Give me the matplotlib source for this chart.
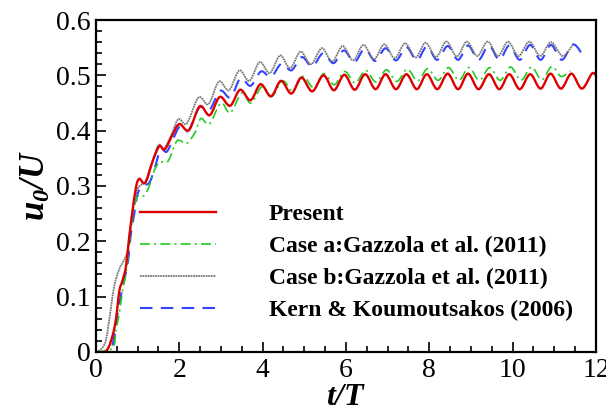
import matplotlib
matplotlib.use("Agg")
import matplotlib.pyplot as plt
from matplotlib.path import Path
from matplotlib.patches import PathPatch
from matplotlib.lines import Line2D
from matplotlib.ticker import MultipleLocator

plt.rcParams['font.family'] = ['Liberation Serif', 'DejaVu Serif']
plt.rcParams['mathtext.fontset'] = 'custom'
plt.rcParams['mathtext.rm'] = 'Liberation Serif'
plt.rcParams['mathtext.it'] = 'Liberation Serif:italic'
plt.rcParams['mathtext.bf'] = 'Liberation Serif:bold'
plt.rcParams['mathtext.bfit'] = 'Liberation Serif:italic:bold'

# values (peaks / troughs and the start-up part)
t_present = [0.0, 0.20, 0.30, 0.40, 0.48, 0.56, 0.64, 0.72, 0.80, 0.88, 0.96, 1.04, 1.18, 1.36,
             1.52, 1.65, 1.84, 2.00, 2.23, 2.49, 2.73, 2.97, 3.22, 3.46, 3.71, 3.95, 4.20, 4.44,
             4.69, 4.93, 5.19, 5.46, 5.71, 5.96, 6.21, 6.46, 6.71, 6.95, 7.20, 7.45, 7.70, 7.94,
             8.19, 8.44, 8.69, 8.93, 9.18, 9.43, 9.68, 9.92, 10.17, 10.42, 10.67, 10.91, 11.16,
             11.41, 11.66, 11.90, 12.0]
u_present = [0.0, 0.0, 0.008, 0.03, 0.06, 0.11, 0.13, 0.155, 0.21, 0.256, 0.298, 0.313, 0.306, 0.345,
             0.372, 0.366, 0.393, 0.412, 0.401, 0.444, 0.428, 0.461, 0.445, 0.474, 0.455, 0.484, 0.462, 0.490,
             0.467, 0.496, 0.471, 0.500, 0.473, 0.501, 0.474, 0.502, 0.475, 0.502, 0.475, 0.502, 0.475, 0.502,
             0.475, 0.503, 0.475, 0.503, 0.475, 0.502, 0.475, 0.502, 0.475, 0.502, 0.476, 0.503, 0.476,
             0.503, 0.476, 0.503, 0.500]

t_case_a = [0.0, 0.40, 0.48, 0.56, 0.64, 0.72, 0.80, 0.88, 0.96, 1.05, 1.16, 1.28, 1.40, 1.52, 1.62,
            1.74, 1.92, 2.02, 2.18, 2.38, 2.52, 2.72, 3.00, 3.22, 3.50, 3.72, 3.99, 4.22, 4.48, 4.72,
            4.97, 5.22, 5.47, 5.72, 5.97, 6.22, 6.47, 6.72, 6.97, 7.22, 7.47, 7.72, 7.96, 8.21, 8.46,
            8.71, 8.95, 9.20, 9.45, 9.70, 9.95, 10.20, 10.45, 10.70, 10.94, 11.16, 11.38]
u_case_a = [0.0, 0.007, 0.040, 0.070, 0.112, 0.142, 0.196, 0.244, 0.275, 0.283, 0.283, 0.300, 0.328, 0.343, 0.343,
            0.346, 0.379, 0.382, 0.377, 0.397, 0.422, 0.412, 0.450, 0.432, 0.468, 0.450, 0.480, 0.462, 0.490, 0.472,
            0.498, 0.478, 0.503, 0.483, 0.507, 0.486, 0.509, 0.488, 0.510, 0.489, 0.511, 0.490, 0.512, 0.491, 0.514,
            0.491, 0.514, 0.491, 0.514, 0.491, 0.515, 0.491, 0.515, 0.492, 0.516, 0.498, 0.508]

t_case_b = [0.0, 0.12, 0.24, 0.36, 0.44, 0.56, 0.68, 0.76, 0.82, 0.90, 1.00, 1.08, 1.22, 1.36, 1.50,
            1.64, 1.82, 1.98, 2.18, 2.46, 2.70, 2.95, 3.19, 3.44, 3.68, 3.93, 4.17, 4.42, 4.66, 4.91,
            5.16, 5.42, 5.67, 5.92, 6.17, 6.42, 6.67, 6.92, 7.17, 7.42, 7.67, 7.91, 8.16, 8.41, 8.66,
            8.90, 9.15, 9.40, 9.65, 9.89, 10.14, 10.40, 10.66, 10.92, 11.20, 11.46]
u_case_b = [0.0, 0.005, 0.022, 0.080, 0.120, 0.150, 0.167, 0.184, 0.220, 0.270, 0.295, 0.302, 0.310, 0.345, 0.374,
            0.368, 0.395, 0.421, 0.413, 0.460, 0.448, 0.489, 0.473, 0.509, 0.490, 0.524, 0.504, 0.536, 0.513, 0.543,
            0.520, 0.549, 0.525, 0.553, 0.527, 0.555, 0.529, 0.556, 0.531, 0.558, 0.532, 0.559, 0.533, 0.561, 0.534,
            0.561, 0.535, 0.561, 0.535, 0.561, 0.535, 0.561, 0.535, 0.560, 0.535, 0.557]

t_kern = [0.0, 0.32, 0.44, 0.52, 0.64, 0.76, 0.84, 0.92, 1.00, 1.12, 1.28, 1.40, 1.55, 1.70, 1.85,
          2.02, 2.22, 2.48, 2.72, 2.98, 3.23, 3.47, 3.71, 3.96, 4.20, 4.45, 4.69, 4.94, 5.19, 5.45,
          5.70, 5.95, 6.20, 6.45, 6.70, 6.95, 7.20, 7.45, 7.70, 7.94, 8.19, 8.44, 8.69, 8.93, 9.18,
          9.43, 9.68, 9.92, 10.17, 10.42, 10.67, 10.92, 11.18, 11.46, 11.74]
u_kern = [0.0, 0.0, 0.028, 0.070, 0.118, 0.160, 0.214, 0.250, 0.286, 0.300, 0.306, 0.330, 0.365, 0.362, 0.385,
          0.408, 0.400, 0.442, 0.437, 0.472, 0.460, 0.495, 0.481, 0.507, 0.497, 0.521, 0.509, 0.533, 0.516, 0.540,
          0.522, 0.545, 0.524, 0.548, 0.526, 0.549, 0.527, 0.551, 0.527, 0.552, 0.528, 0.553, 0.528, 0.554, 0.528,
          0.554, 0.528, 0.554, 0.528, 0.555, 0.528, 0.555, 0.528, 0.556, 0.529]

labels = ['Present', 'Case a:Gazzola et al. (2011)', 'Case b:Gazzola et al. (2011)',
          'Kern & Koumoutsakos (2006)']


def smooth_path(t, u):
    # Catmull-Rom style bezier through the read points
    n = len(t)
    verts = [(t[0], u[0])]
    codes = [Path.MOVETO]
    for i in range(n - 1):
        a = max(i - 1, 0)
        b = min(i + 2, n - 1)
        c1 = (t[i] + (t[i + 1] - t[a]) / 6, u[i] + (u[i + 1] - u[a]) / 6)
        c2 = (t[i + 1] - (t[b] - t[i]) / 6, u[i + 1] - (u[b] - u[i]) / 6)
        verts += [c1, c2, (t[i + 1], u[i + 1])]
        codes += [Path.CURVE4] * 3
    return Path(verts, codes)


styles = [
    dict(color='#dd0000', lw=1.7, ls='-'),
    dict(color='#22cc22', lw=1.2, ls=(0, (6, 2.5, 1.2, 2.5))),
    dict(color='#777777', lw=1.3, ls=(0, (1, 0.4))),
    dict(color='#3344ff', lw=1.5, ls=(0, (6, 4))),
]
series = [(t_present, u_present), (t_case_a, u_case_a), (t_case_b, u_case_b), (t_kern, u_kern)]

fig = plt.figure(figsize=(6.06, 4.17), dpi=100)
ax = fig.add_axes([0.1584, 0.156, 0.8251, 0.796])

# draw back to front so the red line sits on top
for (t, u), st in list(zip(series, styles))[::-1]:
    patch = PathPatch(smooth_path(t, u), fill=False, edgecolor=st['color'],
                      lw=st['lw'], ls=st['ls'], capstyle='butt')
    ax.add_patch(patch)
handles = [Line2D([], [], color=st['color'], lw=st['lw'], ls=st['ls'], label=lab)
           for st, lab in zip(styles, labels)]

ax.set_xlim(0, 12)
ax.set_ylim(0, 0.6)
ax.xaxis.set_minor_locator(MultipleLocator(0.5))
ax.yaxis.set_minor_locator(MultipleLocator(0.02))
ax.set_xticks([0, 2, 4, 6, 8, 10, 12])
ax.set_xticklabels(['0', '2', '4', '6', '8', '10', '12'])
ax.set_yticks([0, 0.1, 0.2, 0.3, 0.4, 0.5, 0.6])
ax.set_yticklabels(['0', '0.1', '0.2', '0.3', '0.4', '0.5', '0.6'])
ax.tick_params(which='both', direction='in', top=False, right=False, labelsize=20, width=1.2)
ax.tick_params(which='major', length=7, pad=4)
ax.tick_params(which='minor', length=4)
for sp in ax.spines.values():
    sp.set_linewidth(1.6)

ax.set_xlabel(r'$\mathbfit{t/T}$', fontsize=23, labelpad=0)
ax.set_ylabel(r'$\mathbfit{u_0/U}$', fontsize=25, labelpad=2)

ax.legend(handles=handles, loc='upper left', bbox_to_anchor=(0.088, 0.448), frameon=False,
          prop={'weight': 'bold', 'size': 17}, handlelength=3.2, handletextpad=2.25,
          labelspacing=0.45, borderpad=0, borderaxespad=0)

fig.savefig('out.png', dpi=100)
